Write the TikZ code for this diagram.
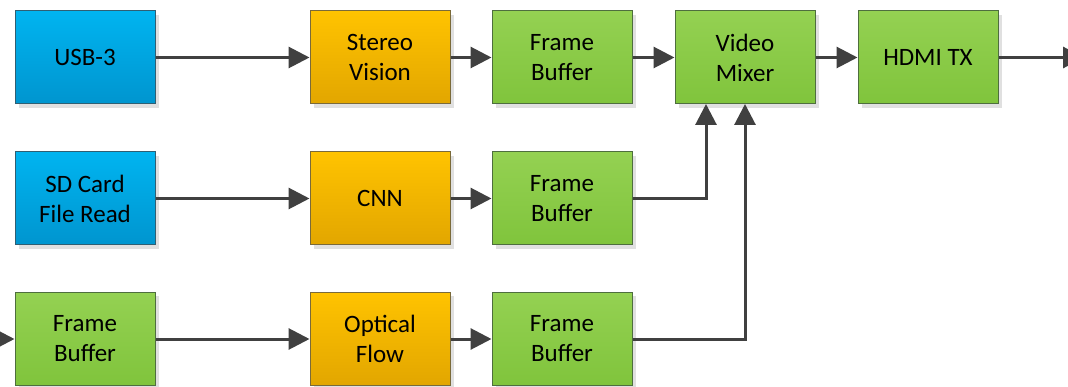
\documentclass[tikz,border=0pt]{standalone}
\usepackage{fontspec}
\setmainfont{Carlito}
\usetikzlibrary{arrows.meta,positioning,shadows}
\definecolor{bluetop}{HTML}{00B4F0}
\definecolor{bluebot}{HTML}{0095CF}
\definecolor{blueedge}{HTML}{2F5F73}
\definecolor{orgtop}{HTML}{FFC300}
\definecolor{orgbot}{HTML}{E2A600}
\definecolor{orgedge}{HTML}{7A6A3A}
\definecolor{grntop}{HTML}{94D152}
\definecolor{grnbot}{HTML}{80C43C}
\definecolor{grnedge}{HTML}{4E6E3E}
\definecolor{wire}{HTML}{404040}
\definecolor{shadowgray}{HTML}{E0E0E0}
\tikzset{
  block/.style={minimum width=140pt, minimum height=93pt, inner sep=0pt,
    align=center, line width=1pt,
    font=\fontsize{25}{30}\selectfont,
    drop shadow={shadow xshift=4pt, shadow yshift=-4pt,
      fill=shadowgray, opacity=1}},
  bluebox/.style={block, draw=blueedge, top color=bluetop, bottom color=bluebot},
  orangebox/.style={block, draw=orgedge, top color=orgtop, bottom color=orgbot},
  greenbox/.style={block, draw=grnedge, top color=grntop, bottom color=grnbot},
  flow/.style={draw=wire, line width=3pt,
    -{Triangle[length=21pt,width=21pt]}},
}
\begin{document}
\begin{tikzpicture}[x=1pt,y=-1pt]
  \clip (0,0) rectangle (1068,387);
  \fill[white] (0,0) rectangle (1068,387);

  % row 1: stereo path
  \node[bluebox]   (usb)    at (85,57.5)  {USB-3};
  \node[orangebox] (stereo) at (380,57.5) {Stereo\\Vision};
  \node[greenbox]  (fb1)    at (562,57.5) {Frame\\Buffer};
  \node[greenbox]  (mixer)  at (745,57.5) {Video\\Mixer};
  \node[greenbox]  (hdmi)   at (928,57.5) {HDMI TX};

  % row 2: CNN path
  \node[bluebox]   (sd)     at (85,198.5)  {SD Card\\File Read};
  \node[orangebox] (cnn)    at (380,198.5) {CNN};
  \node[greenbox]  (fb2)    at (562,198.5) {Frame\\Buffer};

  % row 3: optical flow path
  \node[greenbox]  (fbin)   at (85,339)  {Frame\\Buffer};
  \node[orangebox] (flow)   at (380,339) {Optical\\Flow};
  \node[greenbox]  (fb3)    at (562,339) {Frame\\Buffer};

  \coordinate (src)  at (-20,339);
  \coordinate (sink) at (1084,57.5);
  \coordinate (mixL) at (706,104);
  \coordinate (mixR) at (745,104);

  % connectors
  \draw[flow] (usb) -- (stereo);
  \draw[flow] (stereo) -- (fb1);
  \draw[flow] (fb1) -- (mixer);
  \draw[flow] (mixer) -- (hdmi);
  \draw[flow] (hdmi) -- (sink);

  \draw[flow] (sd) -- (cnn);
  \draw[flow] (cnn) -- (fb2);
  \draw[flow] (fb2.east) -| (mixL);

  \draw[flow] (src) -- (fbin);
  \draw[flow] (fbin) -- (flow);
  \draw[flow] (flow) -- (fb3);
  \draw[flow] (fb3.east) -| (mixR);
\end{tikzpicture}
\end{document}
